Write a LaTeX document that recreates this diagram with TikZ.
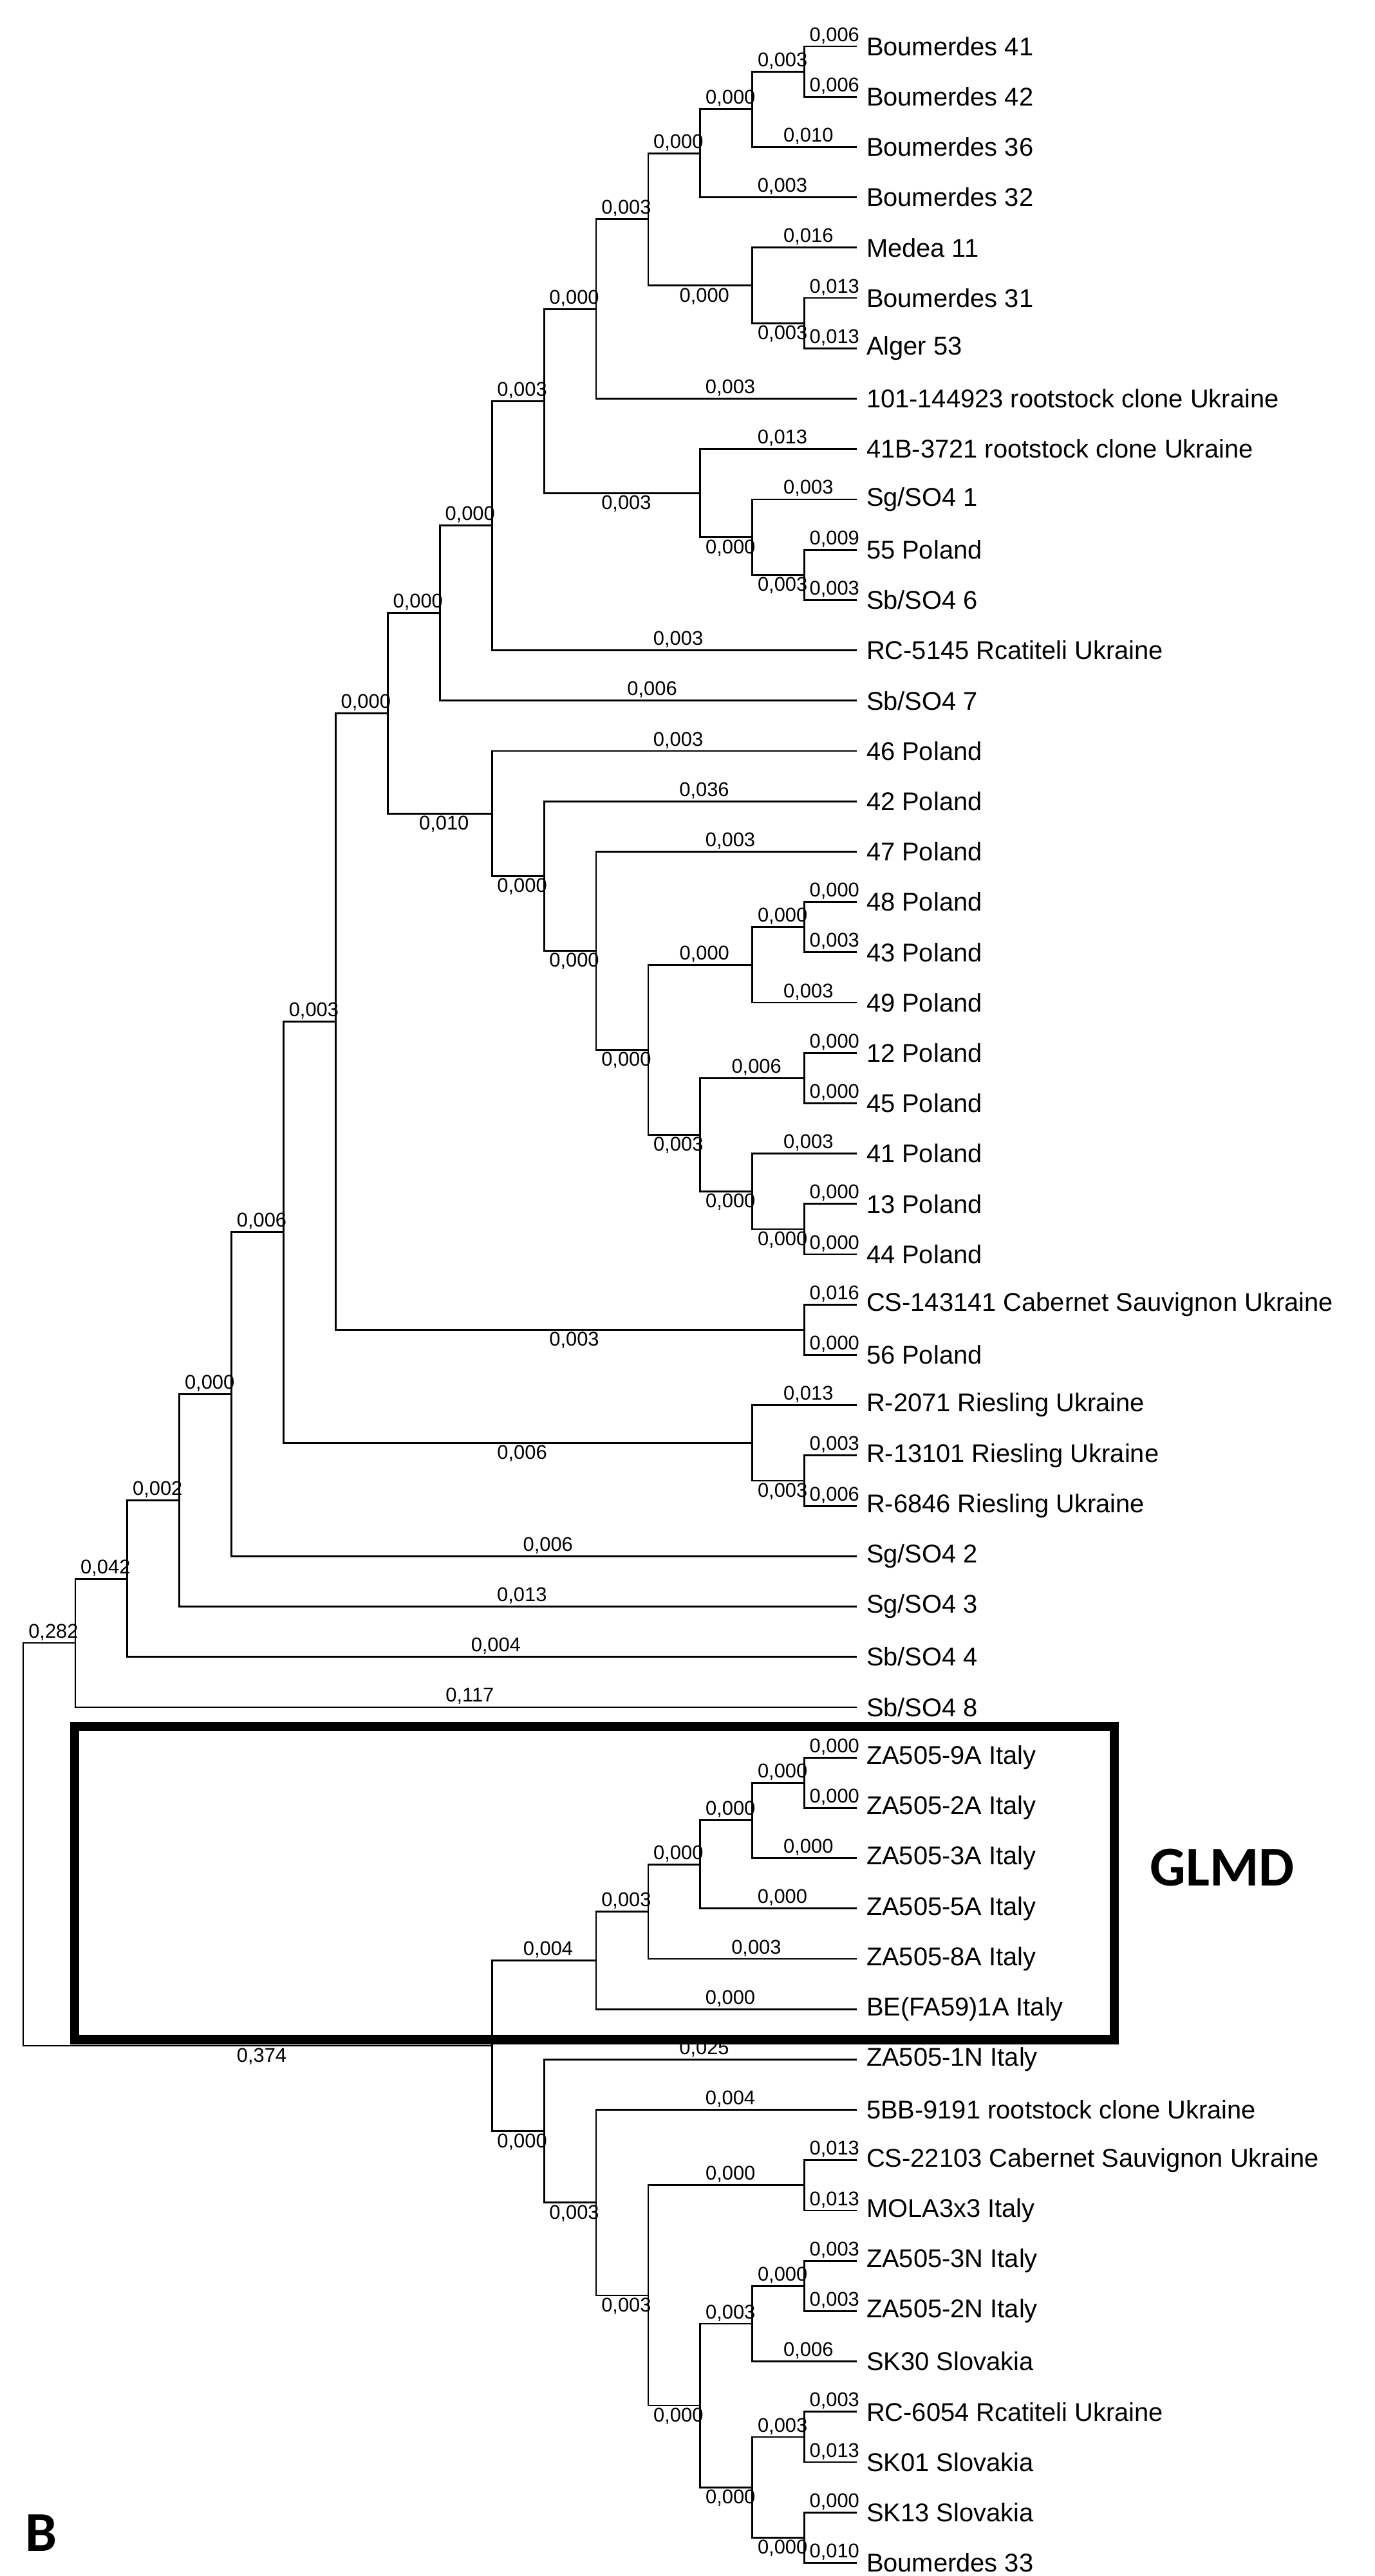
\documentclass[tikz,border=0pt]{standalone}
\usepackage{fontspec}
\setmainfont{Liberation Sans}
\newfontfamily\titlefont{Carlito}
\begin{document}
\begin{tikzpicture}[x=1pt,y=-1pt,
  tree/.style={line width=1.1pt,line cap=rect},
  lbl/.style={font=\fontsize{12}{12}\selectfont,inner sep=1pt,xshift=2.5pt},
  leaf/.style={font=\fontsize{15.5}{16}\selectfont,anchor=west,inner sep=0pt,xshift=6pt}]
\useasboundingbox (0,0) rectangle (830,1556);
\newcommand\lf[3]{\coordinate (#1) at (517,{28+30.4*(#2-1)}); \node[leaf] (#1t) at (#1) {#3};}
\newcommand\nd[7][below]{\path (#4) -- (#5) coordinate[pos=.5] (#2m);
  \coordinate (#2) at ({14+31.45*#3},0 |- #2m);
  \draw[tree] (#2 |- #4) -- node[lbl,above]{#6} (#4);
  \draw[tree] (#2 |- #5) -- node[lbl,#1]{#7} (#5);
  \draw[tree] (#2 |- #4) -- (#2 |- #5);}
\lf{L1}{1}{Boumerdes 41}
\lf{L2}{2}{Boumerdes 42}
\lf{L3}{3}{Boumerdes 36}
\lf{L4}{4}{Boumerdes 32}
\lf{L5}{5}{Medea 11}
\lf{L6}{6}{Boumerdes 31}
\lf{L7}{7}{Alger 53}
\lf{L8}{8}{101-144923 rootstock clone Ukraine}
\lf{L9}{9}{41B-3721 rootstock clone Ukraine}
\lf{L10}{10}{Sg/SO4 1}
\lf{L11}{11}{55 Poland}
\lf{L12}{12}{Sb/SO4 6}
\lf{L13}{13}{RC-5145 Rcatiteli Ukraine}
\lf{L14}{14}{Sb/SO4 7}
\lf{L15}{15}{46 Poland}
\lf{L16}{16}{42 Poland}
\lf{L17}{17}{47 Poland}
\lf{L18}{18}{48 Poland}
\lf{L19}{19}{43 Poland}
\lf{L20}{20}{49 Poland}
\lf{L21}{21}{12 Poland}
\lf{L22}{22}{45 Poland}
\lf{L23}{23}{41 Poland}
\lf{L24}{24}{13 Poland}
\lf{L25}{25}{44 Poland}
\lf{L26}{26}{CS-143141 Cabernet Sauvignon Ukraine}
\lf{L27}{27}{56 Poland}
\lf{L28}{28}{R-2071 Riesling Ukraine}
\lf{L29}{29}{R-13101 Riesling Ukraine}
\lf{L30}{30}{R-6846 Riesling Ukraine}
\lf{L31}{31}{Sg/SO4 2}
\lf{L32}{32}{Sg/SO4 3}
\lf{L33}{33}{Sb/SO4 4}
\lf{L34}{34}{Sb/SO4 8}
\lf{L35}{35}{ZA505-9A Italy}
\lf{L36}{36}{ZA505-2A Italy}
\lf{L37}{37}{ZA505-3A Italy}
\lf{L38}{38}{ZA505-5A Italy}
\lf{L39}{39}{ZA505-8A Italy}
\lf{L40}{40}{BE(FA59)1A Italy}
\lf{L41}{41}{ZA505-1N Italy}
\lf{L42}{42}{5BB-9191 rootstock clone Ukraine}
\lf{L43}{43}{CS-22103 Cabernet Sauvignon Ukraine}
\lf{L44}{44}{MOLA3x3 Italy}
\lf{L45}{45}{ZA505-3N Italy}
\lf{L46}{46}{ZA505-2N Italy}
\lf{L47}{47}{SK30 Slovakia}
\lf{L48}{48}{RC-6054 Rcatiteli Ukraine}
\lf{L49}{49}{SK01 Slovakia}
\lf{L50}{50}{SK13 Slovakia}
\lf{L51}{51}{Boumerdes 33}
% upper clade
\nd[above]{s}{15}{L1}{L2}{0,006}{0,006}
\nd[above]{r}{14}{s}{L3}{0,003}{0,010}
\nd[above]{p}{13}{r}{L4}{0,000}{0,003}
\nd[above]{t}{15}{L6}{L7}{0,013}{0,013}
\nd{q}{14}{L5}{t}{0,016}{0,003}
\nd{o}{12}{p}{q}{0,000}{0,000}
\nd[above]{m}{11}{o}{L8}{0,003}{0,003}
\nd[above]{v}{15}{L11}{L12}{0,009}{0,003}
\nd{u}{14}{L10}{v}{0,003}{0,003}
\nd{n}{13}{L9}{u}{0,013}{0,000}
\nd{j}{10}{m}{n}{0,000}{0,003}
\nd[above]{i}{9}{j}{L13}{0,003}{0,003}
\nd[above]{h}{8}{i}{L14}{0,000}{0,006}
\nd[above]{P7}{15}{L18}{L19}{0,000}{0,003}
\nd[above]{P5}{14}{P7}{L20}{0,000}{0,003}
\nd[above]{P8}{15}{L21}{L22}{0,000}{0,000}
\nd[above]{P10}{15}{L24}{L25}{0,000}{0,000}
\nd{P9}{14}{L23}{P10}{0,003}{0,000}
\nd{P6}{13}{P8}{P9}{0,006}{0,000}
\nd{P4}{12}{P5}{P6}{0,000}{0,003}
\nd{P3}{11}{L17}{P4}{0,003}{0,000}
\nd{P2}{10}{L16}{P3}{0,036}{0,000}
\nd{P}{9}{L15}{P2}{0,003}{0,000}
\nd{g}{7}{h}{P}{0,000}{0,010}
\nd[above]{CS}{15}{L26}{L27}{0,016}{0,000}
\nd{f}{6}{g}{CS}{0,000}{0,003}
\nd[above]{Rr}{15}{L29}{L30}{0,003}{0,006}
\nd{R}{14}{L28}{Rr}{0,013}{0,003}
\nd{e}{5}{f}{R}{0,003}{0,006}
\nd[above]{d}{4}{e}{L31}{0,006}{0,006}
\nd[above]{c}{3}{d}{L32}{0,000}{0,013}
\nd[above]{b}{2}{c}{L33}{0,002}{0,004}
\nd[above]{a}{1}{b}{L34}{0,042}{0,117}
% lower clade
\nd[above]{G5}{15}{L35}{L36}{0,000}{0,000}
\nd[above]{G4}{14}{G5}{L37}{0,000}{0,000}
\nd[above]{G3}{13}{G4}{L38}{0,000}{0,000}
\nd[above]{G2}{12}{G3}{L39}{0,000}{0,003}
\nd[above]{G}{11}{G2}{L40}{0,003}{0,000}
\nd[above]{Z4}{15}{L43}{L44}{0,013}{0,013}
\nd[above]{Z8}{15}{L45}{L46}{0,003}{0,003}
\nd[above]{Z6}{14}{Z8}{L47}{0,000}{0,006}
\nd[above]{Z9}{15}{L48}{L49}{0,003}{0,013}
\nd[above]{Z10}{15}{L50}{L51}{0,000}{0,010}
\nd{Z7}{14}{Z9}{Z10}{0,003}{0,000}
\nd{Z5}{13}{Z6}{Z7}{0,003}{0,000}
\nd{Z3}{12}{Z4}{Z5}{0,000}{0,000}
\nd{Z2}{11}{L42}{Z3}{0,004}{0,003}
\nd{Z}{10}{L41}{Z2}{0,025}{0,003}
\nd{B}{9}{G}{Z}{0,004}{0,000}
\nd{root}{0}{a}{B}{0,282}{0,374}
% box and titles
\draw[line width=5.5pt] (45,1043) rectangle (673,1232);
\node[font=\titlefont\bfseries\fontsize{34}{36}\selectfont] (glmd) at (738,1128) {GLMD};
\node[font=\titlefont\bfseries\fontsize{34}{36}\selectfont] (lettB) at (25,1530) {B};
\end{tikzpicture}
\end{document}
